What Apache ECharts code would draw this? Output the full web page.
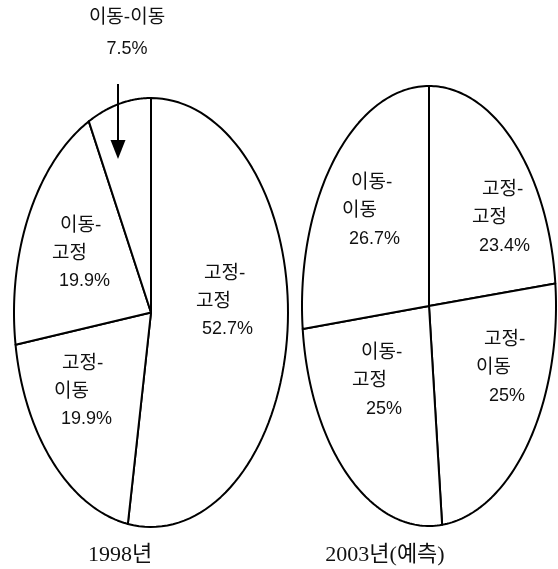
<!DOCTYPE html>
<html>
<head>
<meta charset="utf-8">
<script src="https://cdn.jsdelivr.net/npm/echarts@6/dist/echarts.min.js"></script>
<style>
html, body { margin: 0; padding: 0; background: #fff; }
#main { width: 558px; height: 569px; }
</style>
</head>
<body>
<div id="main"></div>
<script>
// 데이터 (12시 방향에서 시계방향 순서)
var names1998 = ['고정-고정', '고정-이동', '이동-고정', '이동-이동'];
var values1998 = [52.7, 19.9, 19.9, 7.5];
var names2003 = ['고정-고정', '고정-이동', '이동-고정', '이동-이동'];
var values2003 = [23.4, 25, 25, 26.7];
var yearLabels = ['1998년', '2003년(예측)'];

// 라벨 위치 (파이 중심 기준 px 오프셋), 줄별 들여쓰기
var labelLayout1998 = [
    { dx: 45, dy: -53, pad: [8, 6] },
    { dx: -97, dy: 37, pad: [8, 7] },
    { dx: -99, dy: -101, pad: [8, 7] },
    { callout: true, dx: -24, dy: -310, ax: -33, ay1: -228.5, ay2: -153.5 }
];
var labelLayout2003 = [
    { dx: 43, dy: -130, pad: [10, 7] },
    { dx: 47, dy: 20, pad: [8, 13] },
    { dx: -77, dy: 33, pad: [9, 14] },
    { dx: -87, dy: -137, pad: [9, 7] }
];

var labelFont = '"Liberation Sans", "Noto Sans CJK KR", sans-serif';
var nameSize = 19;
var pctSize = 18;

// 누적 비율로 조각 데이터 만들기
function makeSlices(names, values) {
    var total = 0;
    values.forEach(function (v) { total += v; });
    var acc = 0;
    return values.map(function (v, i) {
        var s = acc / total;
        acc += v;
        return { value: [s, acc / total, v, i], name: names[i] };
    });
}

function txt(size, pad, h) {
    return { fontSize: size, lineHeight: h, fontFamily: labelFont, fill: '#111', padding: [0, 0, 0, pad || 0] };
}

function makeRenderItem(names, values, layout) {
    return function (params, api) {
        var start = api.value(0);
        var end = api.value(1);
        var idx = api.value(3);
        var center = api.coord([0, 0]);
        var points = [center];
        var n = 80;
        for (var k = 0; k <= n; k++) {
            var th = 2 * Math.PI * (start + (end - start) * k / n);
            points.push(api.coord([Math.sin(th), Math.cos(th)]));
        }
        var children = [{
            type: 'polygon',
            shape: { points: points },
            style: { fill: '#fff', stroke: '#000', lineWidth: 2, lineJoin: 'round' }
        }];
        var lay = layout[idx];
        var parts = names[idx].split('-');
        var pct = values[idx] + '%';
        if (lay.callout) {
            children.push({
                type: 'text',
                x: center[0] + lay.dx,
                y: center[1] + lay.dy,
                style: {
                    text: '{a|' + names[idx] + '}\n{c|' + pct + '}',
                    textAlign: 'center',
                    textVerticalAlign: 'top',
                    rich: { a: txt(nameSize, 0, 31), c: txt(pctSize, 0, 31) }
                }
            });
            var ax = center[0] + lay.ax;
            var y1 = center[1] + lay.ay1;
            var y2 = center[1] + lay.ay2;
            children.push({
                type: 'line',
                shape: { x1: ax, y1: y1, x2: ax, y2: y2 - 18 },
                style: { stroke: '#000', lineWidth: 2 }
            });
            children.push({
                type: 'polygon',
                shape: { points: [[ax - 7.5, y2 - 19], [ax + 7.5, y2 - 19], [ax, y2]] },
                style: { fill: '#000' }
            });
        } else {
            children.push({
                type: 'text',
                x: center[0] + lay.dx,
                y: center[1] + lay.dy,
                style: {
                    text: '{a|' + parts[0] + '-}\n{b|' + parts[1] + '}\n{c|' + pct + '}',
                    textAlign: 'left',
                    textVerticalAlign: 'top',
                    rich: {
                        a: txt(nameSize, lay.pad[0], 28),
                        b: txt(nameSize, 0, 28),
                        c: txt(pctSize, lay.pad[1], 28)
                    }
                }
            });
        }
        return { type: 'group', children: children };
    };
}

var chart = echarts.init(document.getElementById('main'));

var hiddenAxis = function (gi) {
    return {
        type: 'value', gridIndex: gi, min: -1, max: 1,
        show: false, splitLine: { show: false }
    };
};

var option = {
    animation: false,
    backgroundColor: '#fff',
    grid: [
        { left: 14, top: 98, width: 274, height: 429 },
        { left: 302, top: 86, width: 254, height: 440 }
    ],
    xAxis: [hiddenAxis(0), hiddenAxis(1)],
    yAxis: [hiddenAxis(0), hiddenAxis(1)],
    series: [
        {
            type: 'custom',
            name: yearLabels[0],
            xAxisIndex: 0,
            yAxisIndex: 0,
            data: makeSlices(names1998, values1998),
            renderItem: makeRenderItem(names1998, values1998, labelLayout1998)
        },
        {
            type: 'custom',
            name: yearLabels[1],
            xAxisIndex: 1,
            yAxisIndex: 1,
            data: makeSlices(names2003, values2003),
            renderItem: makeRenderItem(names2003, values2003, labelLayout2003)
        }
    ],
    graphic: [
        {
            type: 'text', x: 120, y: 555,
            style: {
                text: yearLabels[0], textAlign: 'center', textVerticalAlign: 'middle',
                font: '22px "Liberation Serif", "Noto Sans CJK KR", serif', fill: '#111'
            }
        },
        {
            type: 'text', x: 385, y: 555,
            style: {
                text: yearLabels[1], textAlign: 'center', textVerticalAlign: 'middle',
                font: '22px "Liberation Serif", "Noto Sans CJK KR", serif', fill: '#111'
            }
        }
    ]
};

chart.setOption(option);
</script>
</body>
</html>
